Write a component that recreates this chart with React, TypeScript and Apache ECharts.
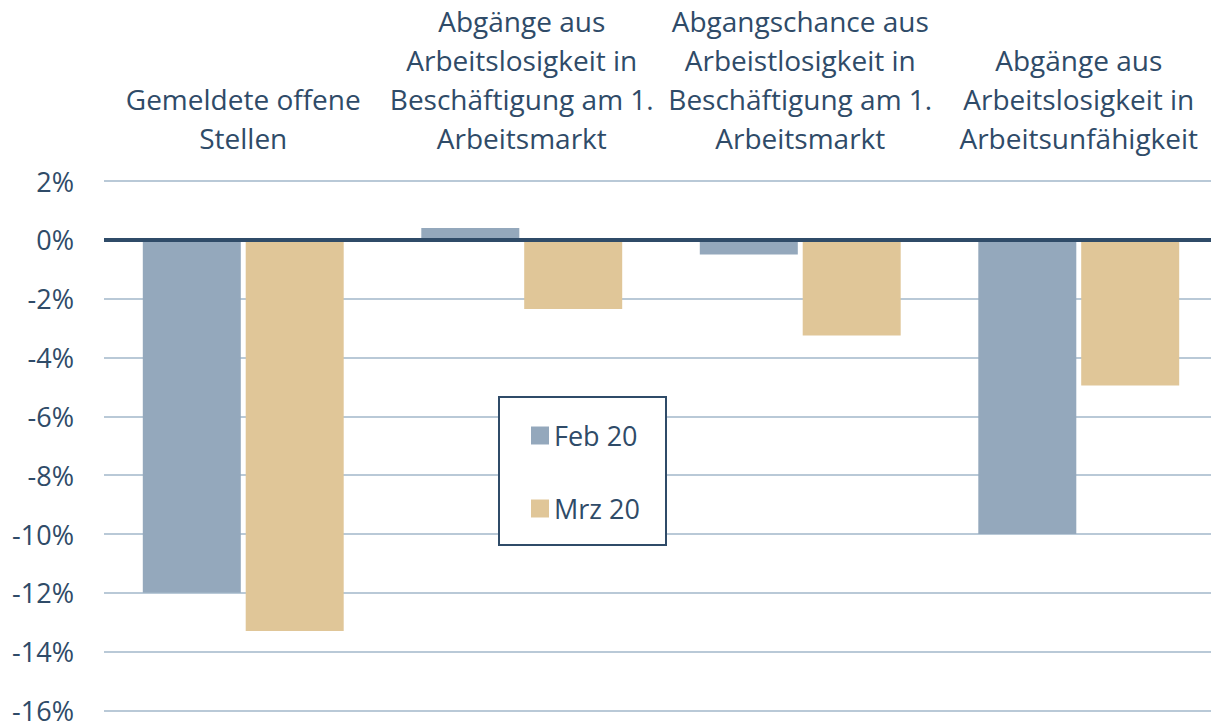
import React, { useEffect, useRef } from "react";
import * as echarts from "echarts";

const categories = [
  "Gemeldete offene\nStellen",
  "Abgänge aus\nArbeitslosigkeit in\nBeschäftigung am 1.\nArbeitsmarkt",
  "Abgangschance aus\nArbeistlosigkeit in\nBeschäftigung am 1.\nArbeitsmarkt",
  "Abgänge aus\nArbeitslosigkeit in\nArbeitsunfähigkeit",
];
const feb20 = [-12.0, 0.4, -0.5, -10.0];
const mrz20 = [-13.3, -2.35, -3.25, -4.95];
const seriesNames = ["Feb 20", "Mrz 20"];

const TEXT = "#2f4b68";
const FONT = "'Open Sans', sans-serif";

export default function App() {
  const ref = useRef<HTMLDivElement>(null);
  useEffect(() => {
    const chart = echarts.init(ref.current!, null, { renderer: "svg" });
    chart.setOption({
      animation: false,
      textStyle: { fontFamily: FONT },
      grid: { left: 104, right: 0, top: 181, bottom: 13, containLabel: false },
      xAxis: {
        type: "category",
        position: "top",
        data: categories,
        axisLine: { show: false },
        axisTick: { show: false },
        axisLabel: {
          color: TEXT,
          fontSize: 28,
          lineHeight: 39,
          margin: 24,
          fontFamily: FONT,
          interval: 0,
        },
      },
      yAxis: {
        type: "value",
        min: -16,
        max: 2,
        interval: 2,
        axisLine: { show: false },
        axisTick: { show: false },
        axisLabel: {
          color: TEXT,
          fontSize: 27,
          margin: 30,
          fontFamily: FONT,
          formatter: (v: number) => `${v}%`,
        },
        splitLine: { lineStyle: { color: "#b9c9d7", width: 2 } },
      },
      legend: {
        orient: "vertical",
        left: 531,
        top: 422,
        padding: 0,
        itemWidth: 18,
        itemHeight: 18,
        itemGap: 46,
        icon: "rect",
        z: 10,
        textStyle: { color: TEXT, fontSize: 27, fontFamily: FONT },
        data: seriesNames,
      },
      graphic: [
        {
          type: "rect",
          shape: { x: 499, y: 397, width: 167, height: 148 },
          style: { fill: "#ffffff", stroke: "#2f4b68", lineWidth: 2 },
          z: 3,
        },
      ],
      series: [
        {
          name: seriesNames[0],
          type: "bar",
          data: feb20,
          barWidth: 98,
          barGap: "5%",
          itemStyle: { color: "#94a8bc" },
          markLine: {
            silent: true,
            symbol: "none",
            label: { show: false },
            lineStyle: { color: "#2f4b68", width: 4, type: "solid" },
            data: [{ yAxis: 0 }],
            z: 10,
          },
        },
        {
          name: seriesNames[1],
          type: "bar",
          data: mrz20,
          barWidth: 98,
          itemStyle: { color: "#e0c698" },
        },
      ],
    });
    return () => chart.dispose();
  }, []);
  return (
    <div
      style={{ position: "fixed", left: 0, top: 0, width: 1211, height: 724, overflow: "hidden", background: "#fff" }}
    >
      <div ref={ref} style={{ width: 1218, height: 724 }} />
    </div>
  );
}
